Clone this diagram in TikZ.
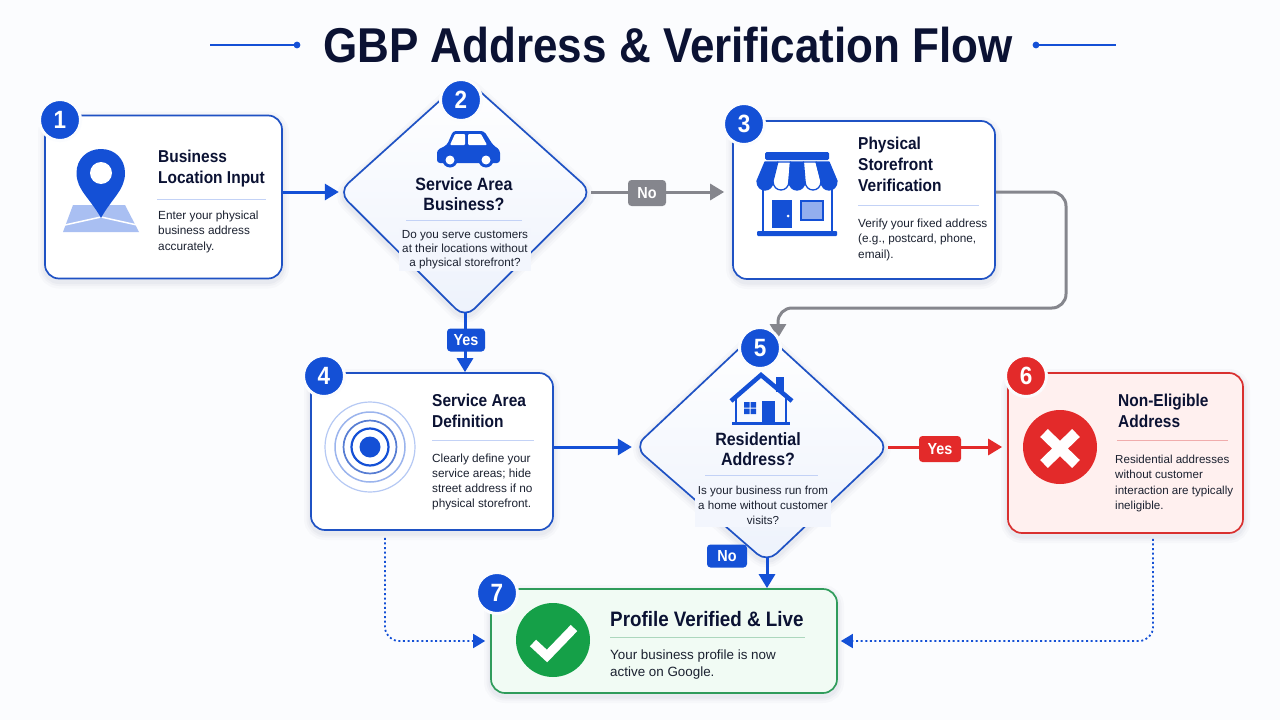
\documentclass[tikz,border=0pt]{standalone}
\usepackage{fontspec}
\setmainfont{Liberation Sans}
\newfontfamily\hb{Liberation Sans}[FakeStretch=0.9]
\usetikzlibrary{shapes.geometric,arrows.meta,calc}
\definecolor{bluemain}{HTML}{1450D6}
\definecolor{blueline}{HTML}{1F52C4}
\definecolor{bluepale}{HTML}{A9BFF2}
\definecolor{dfill}{HTML}{EDF2FC}
\definecolor{dtext}{HTML}{F3F6FD}
\definecolor{navy}{HTML}{0B1233}
\definecolor{greyc}{HTML}{85868D}
\definecolor{redc}{HTML}{E32A2A}
\definecolor{redline}{HTML}{D9302F}
\definecolor{redfill}{HTML}{FFF0EF}
\definecolor{greenc}{HTML}{15A048}
\definecolor{greenline}{HTML}{2F9C5B}
\definecolor{greenfill}{HTML}{F1FBF4}
\definecolor{bodyc}{HTML}{1B2130}
\definecolor{page}{HTML}{FBFCFE}
\definecolor{shadowc}{HTML}{3A4A78}
\tikzset{
 softshadow/.style={
  preaction={draw=shadowc,draw opacity=.025,line width=14pt,transform canvas={yshift=-3pt}},
  preaction={draw=shadowc,draw opacity=.03,line width=9pt,transform canvas={yshift=-3pt}},
  preaction={draw=shadowc,draw opacity=.04,line width=5pt,transform canvas={yshift=-3pt}}},
 card/.style={draw=blueline,line width=1.7pt,fill=white,rounded corners=14pt,softshadow,inner sep=0pt},
 diashape/.style={draw=blueline,line width=1.7pt,top color=white,bottom color=dfill,rounded corners=13pt,softshadow},
 dia/.style={diamond,aspect=1,inner sep=0pt},
 badge/.style={circle,fill=bluemain,draw=page,line width=3pt,minimum size=41pt,inner sep=0pt,text=white,font=\hb\bfseries\fontsize{25}{25}\selectfont},
 ttl/.style={anchor=north west,inner sep=0pt,align=left,text=navy,font=\hb\bfseries\fontsize{17.2}{20.8}\selectfont},
 ttlc/.style={anchor=north,inner sep=0pt,align=center,text=navy,font=\hb\bfseries\fontsize{17.8}{20}\selectfont},
 txt/.style={anchor=north west,inner sep=0pt,align=left,text=bodyc,font=\fontsize{11.8}{15.2}\selectfont},
 txtc/.style={anchor=north,inner xsep=3pt,inner ysep=2pt,fill=dtext,align=center,text=bodyc,font=\fontsize{11.7}{14}\selectfont},
 tag/.style={rounded corners=3.5pt,text=white,inner sep=0pt,font=\hb\bfseries\fontsize{16}{16}\selectfont},
 flow/.style={line width=3pt,-{Triangle[length=14pt,width=16pt]}},
 dotflow/.style={bluemain,line width=1.8pt,dash pattern=on 2pt off 2.6pt,rounded corners=14pt,-{Triangle[length=12pt,width=14pt]}},
 rule/.style={line width=.9pt,bluepale!70!white},
}
\begin{document}
\begin{tikzpicture}[x=1pt,y=-1pt]
\useasboundingbox (0,0) rectangle (1280,720);
\fill[page] (0,0) rectangle (1280,720);

% title
\node[inner sep=0pt,text=navy,font=\hb\bfseries\fontsize{48.9}{46}\selectfont] (title) at (668,45) {GBP Address \& Verification Flow};
\coordinate (tl0) at (210,45); \coordinate (tl1) at (297,45);
\coordinate (tr0) at (1036,45); \coordinate (tr1) at (1116,45);
\draw[bluemain,line width=1.3pt] (tl0) -- (tl1);
\draw[bluemain,line width=1.3pt] (tr0) -- (tr1);
\fill[bluemain] (tl1) circle (3.4pt) (tr0) circle (3.4pt);

% cards and diamonds
\node[card,minimum width=237pt,minimum height=163pt] (c1) at (163.5,197) {};
\path[diashape] (465,78) -- (592,192) -- (465,318) -- (338.5,192) -- cycle;
\node[dia,minimum width=252pt,minimum height=240pt] (d2) at (465,192) {};
\node[card,minimum width=262pt,minimum height=158pt] (c3) at (864,200) {};
\node[card,minimum width=242pt,minimum height=157pt] (c4) at (432,451.5) {};
\path[diashape] (760,329) -- (889,447) -- (767,562.5) -- (634.5,447) -- cycle;
\node[dia,minimum width=252pt,minimum height=234pt] (d5) at (762,447) {};
\node[card,draw=redline,fill=redfill,minimum width=235pt,minimum height=160pt] (c6) at (1125.5,453) {};
\node[card,draw=greenline,fill=greenfill,minimum width=346pt,minimum height=104pt] (c7) at (664,641) {};

% connectors
\coordinate (r1) at (1066,192); \coordinate (r2) at (1066,308); \coordinate (r3) at (778,308); \coordinate (t5) at (778,338);
\coordinate (l4) at (385,641); \coordinate (l6) at (1153,641);
\coordinate (s5) at (767,557);
\draw[flow,bluemain] (c1.east |- d2.west) -- (d2.west);
\draw[flow,greyc,shorten >=8pt] (d2.east) -- (c3.west |- d2.east);
\draw[greyc,line width=3pt,rounded corners=14pt,-{Triangle[length=14pt,width=16pt]}] (c3.east |- r1) -- (r1) -- (r2) -- (r3) -- (t5);
\draw[flow,bluemain] (d2.south) -- (c4.north -| d2.south);
\draw[flow,bluemain,shorten >=4pt] (c4.east |- d5.west) -- (d5.west);
\draw[flow,redc,shorten >=5pt] (d5.east) -- (c6.west |- d5.east);
\draw[flow,bluemain] (s5) -- (c7.north -| s5);
\draw[dotflow,shorten <=7pt,shorten >=5pt] (c4.south -| l4) -- (l4) -- (c7.west |- l4);
\draw[dotflow,shorten <=5pt,shorten >=3pt] (c6.south -| l6) -- (l6) -- (c7.east |- l6);

% connector labels
\node[tag,fill=greyc,minimum width=38pt,minimum height=26pt] (tagno) at (647,193) {No};
\node[tag,fill=bluemain,minimum width=38pt,minimum height=23pt] (tagyes) at (466,340) {Yes};
\node[tag,fill=redc,minimum width=42pt,minimum height=26pt] (tagred) at (940,449) {Yes};
\node[tag,fill=bluemain,minimum width=40pt,minimum height=23pt] (tagno2) at (727,556) {No};

% badges
\node[badge] (b1) at (60,120) {1};
\node[badge] (b2) at (461,100) {2};
\node[badge] (b3) at (744,124) {3};
\node[badge] (b4) at (324,376) {4};
\node[badge] (b5) at (760,348) {5};
\node[badge,fill=redc] (b6) at (1026,376) {6};
\node[badge] (b7) at (497,593) {7};

% card 1
\node[ttl] (t1) at (158,150) {Business\\Location Input};
\draw[rule] (157,199) -- (266,199);
\node[txt] (x1) at (158,211) {Enter your physical\\business address\\accurately.};
\fill[bluepale] (73,205) -- (125,205) -- (139,232) -- (63,232) -- cycle;
\draw[white,line width=1.5pt] (65,225) -- (101,217) -- (137,225);
\fill[bluemain] (101,218) .. controls (90,198) and (76.5,190) .. (76.5,173) .. controls (76.5,159) and (87,149) .. (101,149) .. controls (115,149) and (125,159) .. (125,173) .. controls (125,190) and (112,198) .. (101,218) -- cycle;
\fill[white] (101,173) circle (11pt);

% diamond 2
\fill[bluemain,rounded corners=3pt] (437,163) -- (437,150) -- (447,145) -- (453,131) -- (484,131) -- (493,145) -- (500,150) -- (500,163) -- cycle;
\fill[white,rounded corners=1pt] (450,145) -- (455,134) -- (465,134) -- (465,145) -- cycle;
\fill[white,rounded corners=1pt] (468,145) -- (468,134) -- (481,134) -- (487,145) -- cycle;
\fill[bluemain] (450,160) circle (7.5pt) (486,160) circle (7.5pt);
\fill[white] (450,160) circle (4.5pt) (486,160) circle (4.5pt);
\node[ttlc] (t2) at (464,177) {Service Area\\Business?};
\draw[rule] (406,220) -- (522,220);
\node[txtc] (x2) at (465,228) {Do you serve customers\\at their locations without\\a physical storefront?};

% card 3
\node[ttl] (t3) at (858,137) {Physical\\Storefront\\Verification};
\draw[rule] (858,205) -- (979,205);
\node[txt] (x3) at (858,219) {Verify your fixed address\\(e.g., postcard, phone,\\email).};
\draw[bluemain,line width=2pt] (763,186) -- (763,232) (832,186) -- (832,232);
\foreach \xa/\xb/\xc/\xd/\col in {765/757/773/777.8/bluemain,777.8/773/789/790.6/white,790.6/789/805/803.4/bluemain,803.4/805/821/816.2/white,816.2/821/837/829/bluemain}{
 \filldraw[fill=\col,draw=bluemain,line width=1.3pt,line join=round] (\xa,162) -- (\xb,181) .. controls (\xb,193) and (\xc,193) .. (\xc,181) -- (\xd,162) -- cycle;
}
\fill[bluemain,rounded corners=1.5pt] (765,152) rectangle (829,160);
\fill[bluemain,rounded corners=1pt] (757,231) rectangle (837,236);
\fill[bluemain] (772,200) rectangle (792,228);
\fill[white] (788,216) circle (1.5pt);
\filldraw[fill=bluepale!85!bluemain,draw=bluemain,line width=1.5pt] (801,201) rectangle (823,220);

% card 4
\node[ttl] (t4) at (432,394) {Service Area\\Definition};
\draw[rule] (432,440) -- (534,440);
\node[txt] (x4) at (432,453.5) {Clearly define your\\service areas; hide\\street address if no\\physical storefront.};
\draw[bluepale!85!white,line width=1.2pt] (370,447) circle (45pt);
\draw[bluepale!90!blueline,line width=1.5pt] (370,447) circle (35pt);
\draw[blueline!75!white,line width=1.7pt] (370,447) circle (26.5pt);
\draw[bluemain,line width=2.2pt] (370,447) circle (18.5pt);
\fill[bluemain] (370,447) circle (10.5pt);

% diamond 5
\draw[bluemain,line width=4.5pt,line join=miter] (731,401) -- (761,375) -- (792,401);
\fill[bluemain] (776,377) rectangle (784,392);
\draw[bluemain,line width=2pt] (736,398) -- (736,423) (786,398) -- (786,423);
\fill[bluemain] (732,422) rectangle (790,425);
\fill[bluemain] (762,401) rectangle (775,423);
\fill[bluemain] (744,402) rectangle (749.5,407.5) (750.5,402) rectangle (756,407.5) (744,408.5) rectangle (749.5,414) (750.5,408.5) rectangle (756,414);
\node[ttlc] (t5t) at (758,432.5) {Residential\\Address?};
\draw[rule] (705,475) -- (818,475);
\node[txtc,font=\fontsize{11.6}{15}\selectfont] (x5) at (763,484) {Is your business run from\\a home without customer\\visits?};

% card 6
\node[ttl] (t6) at (1118,394) {Non-Eligible\\Address};
\draw[rule,draw=redline!40!white] (1117,440) -- (1228,440);
\node[txt,font=\fontsize{11.6}{15.2}\selectfont] (x6) at (1115,455) {Residential addresses\\without customer\\interaction are typically\\ineligible.};
\fill[redc] (1060,447) circle (37pt);
\draw[white,line width=11pt] (1044,433) -- (1076,464) (1076,433) -- (1044,464);

% card 7
\node[ttl,font=\hb\bfseries\fontsize{20.9}{24}\selectfont] (t7) at (610,611) {Profile Verified \& Live};
\draw[rule,draw=greenline!40!white] (610,637) -- (805,637);
\node[txt,font=\fontsize{13.4}{17}\selectfont] (x7) at (610,650) {Your business profile is now\\active on Google.};
\fill[greenc] (553,640) circle (37pt);
\draw[white,line width=9pt,line join=miter] (533,643) -- (547,656) -- (574,628);
\end{tikzpicture}
\end{document}
